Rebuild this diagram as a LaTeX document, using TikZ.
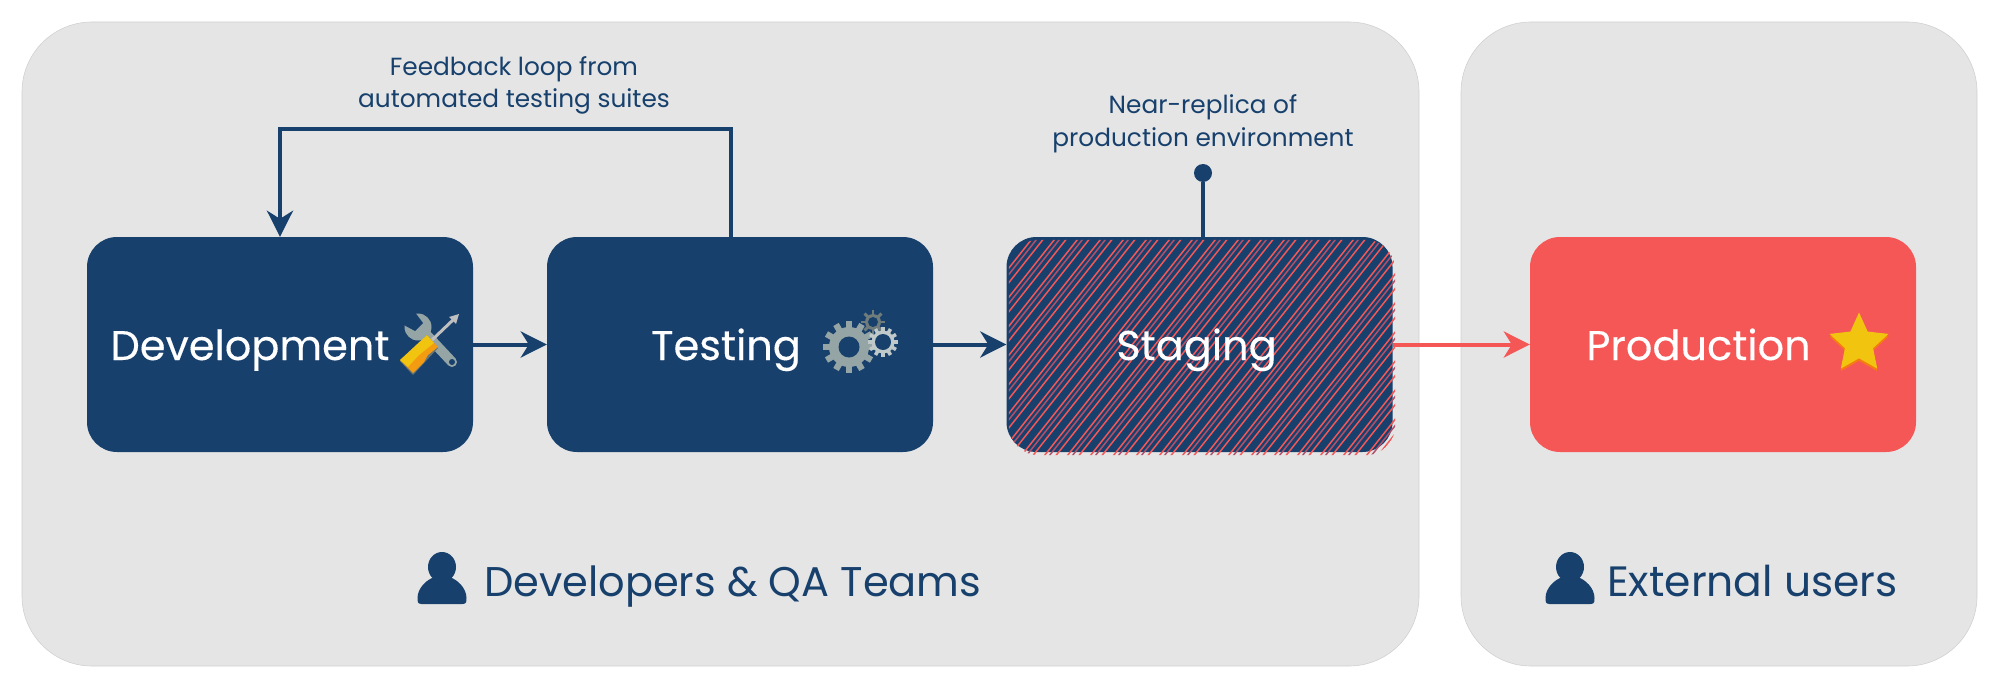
\documentclass[tikz,border=0pt]{standalone}
\usepackage{fontspec}
\setmainfont{Poppins}
\newfontfamily\labelfont[FakeBold=.25]{Poppins}
\usetikzlibrary{arrows.meta}
\usetikzlibrary{positioning,shapes.geometric}
\definecolor{navy}{HTML}{17406D}
\definecolor{coral}{HTML}{F55656}
\definecolor{dimcoral}{HTML}{B0506A}
\definecolor{panelgrey}{HTML}{E5E5E5}
\definecolor{toolgrey}{HTML}{95A5A6}
\definecolor{sunyellow}{HTML}{F1C40F}
\definecolor{sunorange}{HTML}{F39C12}
\tikzset{
	panelbox/.style={draw=black!18,line width=.6pt,fill=panelgrey,rounded corners=70pt,inner sep=0pt},
	stagebox/.style={fill=navy,rounded corners=30pt,minimum width=386pt,minimum height=215pt,inner sep=0pt},
	boxtext/.style={text=white,font=\labelfont\fontsize{41.5}{41.5}\selectfont,anchor=base,inner sep=0pt,yshift=-15.5pt},
	grouptext/.style={text=navy,font=\fontsize{41.5}{41.5}\selectfont,anchor=base west,inner sep=0pt},
	notetext/.style={text=navy,font=\fontsize{24.8}{32.5}\selectfont,align=center,inner sep=0pt},
	flowarrow/.style={line width=4pt,-{Stealth[length=26pt,width=26pt,inset=8pt]}},
	flowline/.style={line width=4pt},
	hatchline/.style={draw=coral,line width=1.5pt},
	hatchdim/.style={draw=dimcoral,line width=1.5pt},
}
\newcommand{\gearicon}[7]{%
	\begin{scope}[shift={(#1,#2)}]
		\foreach \a in {1,...,#6} \draw[#7,line width=#3*.24pt] ({\a*360/#6}:#4-1) -- ({\a*360/#6}:#3);
		\fill[#7] (0,0) circle (#4pt);
		\fill[navy] (0,0) circle (#5pt);
	\end{scope}}
\newcommand{\personicon}[3]{%
	\begin{scope}[shift={(#1,#2)}]
		\fill[navy] (0,0) ellipse (14pt and 15pt);
		\fill[navy] (-#3+4,37) .. controls (-#3-.5,37) and (-#3,34) .. (-#3,31) .. controls (-#3,21) and (-15,12) .. (-7,10) -- (7,10) .. controls (15,12) and (#3,21) .. (#3,31) .. controls (#3,34) and (#3+.5,37) .. (#3-4,37) -- cycle;
	\end{scope}}
\begin{document}
\begin{tikzpicture}[x=1pt,y=-1pt]
	\useasboundingbox (0,0) rectangle (1999,690);
	\fill (720.5,344) node[panelbox,minimum width=1397pt,minimum height=644pt] (devpanel) {};
	\fill (1719,344) node[panelbox,minimum width=516pt,minimum height=644pt] (userpanel) {};
	%
	\fill (280,344.5) node[stagebox] (dev) {};
	\fill (0,0) node[stagebox,right of=dev,node distance=460pt] (test) {};
	\fill (0,0) node[stagebox,right of=test,node distance=459.5pt] (stage) {};
	\fill (0,0) node[stagebox,right of=stage,node distance=523.5pt,fill=coral] (prod) {};
	%
	\begin{scope}
		\clip[rounded corners=30pt] ([xshift=2.5pt,yshift=-3pt]stage.north west) rectangle ([xshift=2.5pt,yshift=-3pt]stage.south east);
		\foreach \k in {780,803,...,1400} \draw[hatchdim] (\k+5,470) -- ++(190,-240);
		\foreach \k in {780,791.5,...,1400} \draw[hatchline] (\k,470) -- ++(190,-240);
	\end{scope}
	%
	\fill (dev.center) node[boxtext,xshift=-30pt] (devtext) {Development};
	\fill (test.center) node[boxtext,xshift=-14pt] (testtext) {Testing};
	\fill (stage.center) node[boxtext,xshift=-3pt] (stagetext) {Staging};
	\fill (prod.center) node[boxtext,xshift=-24.5pt] (prodtext) {Production};
	%
	\fill (514,85.5) node[notetext] (loopnote) {Feedback loop from\\automated testing suites};
	\fill (1203,124) node[notetext] (stagenote) {Near-replica of\\production environment};
	\fill (484,596) node[grouptext] (devgroup) {Developers \& QA Teams};
	\fill (1607,596) node[grouptext,font=\fontsize{42.4}{42.4}\selectfont] (usergroup) {External users};
	\personicon{442}{567}{24.5}
	\personicon{1570}{567}{24.5}
	%
	\coordinate (loopR) at (731,129);
	\coordinate (loopL) at (280,129);
	\fill[navy] (1203,173) node[circle,fill=navy,minimum size=18pt,inner sep=0pt] (stagedot) {};
	%
	\path (dev) edge[navy,flowarrow] (test);
	\path (test) edge[navy,flowarrow] (stage);
	\path (stage) edge[coral,flowarrow] (prod);
	\draw[navy,flowarrow,line join=miter] (loopR |- test.north) -- (loopR) -- (loopL) -- (dev.north);
	\draw[navy,flowline] (stagedot) -- (stagedot |- stage.north);
	%
	% tools icon
	\draw[toolgrey,line width=10pt,line cap=round] (422,330) -- (452,362);
	\fill[toolgrey] (418,327) circle (13.5pt);
	\fill[navy] (402,324) -- (414,311) -- (423,323) -- (415,331) -- cycle;
	\fill[navy] (452,362) circle (3pt);
	\draw[black!25,line width=3pt] (432,340) -- (454,319);
	\fill[black!25] (459,314) -- (449,317) -- (456,324) -- cycle;
	\fill[toolgrey!70!black] (400,361) -- (413,375) -- (438,348) -- (427,335) -- cycle;
	\fill[sunorange] (400,360) -- (413,373) -- (424,362) -- (428,355) -- (438,347) -- (432,341) -- cycle;
	\fill[sunyellow] (400,360) -- (427,335) -- (434,343) -- (424,351) -- (418,356) -- (408,367) -- cycle;
	%
	% gears
	\gearicon{873}{322}{12}{8}{5}{8}{toolgrey!75!black}
	\gearicon{849}{347}{26}{20}{10.5}{12}{toolgrey}
	\gearicon{883}{342}{15}{11.5}{8}{12}{toolgrey!60!white}
	%
	% star
	\fill (1859,346) node[star,star points=5,star point ratio=2.1,fill=sunorange!80!red,minimum size=62pt,inner sep=0pt] (starback) {};
	\fill (1859,343.5) node[star,star points=5,star point ratio=2.1,fill=sunyellow,minimum size=62pt,inner sep=0pt] (starfront) {};
\end{tikzpicture}
\end{document}
